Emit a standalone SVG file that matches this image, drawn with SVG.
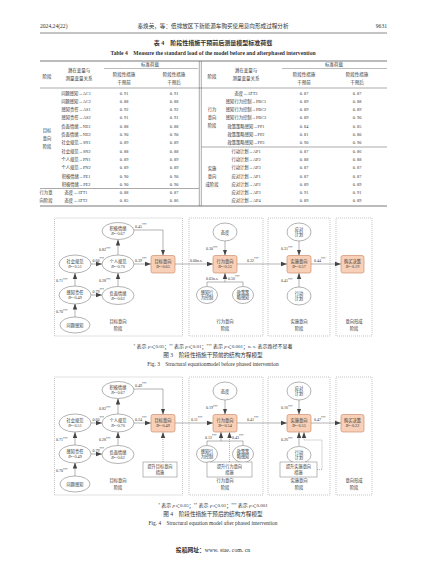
<svg xmlns="http://www.w3.org/2000/svg" width="427" height="579" viewBox="0 0 427 579">
<defs>
<style>
text{font-family:"Liberation Serif","Noto Sans CJK SC",serif;fill:#333}
.hd{font-size:5.6px}
.tt{font-size:6px;font-weight:bold;text-anchor:middle}
.th{font-size:4.5px;text-anchor:middle}
.tb{font-size:4.3px;text-anchor:middle}
.tl{stroke:#555;fill:none}
.nt{font-size:4.2px;text-anchor:middle}
.lb{font-size:4px}
.st{font-size:4.3px;text-anchor:middle}
.cap{font-size:5.4px;text-anchor:middle}
.el{fill:#fff;stroke:#666;stroke-width:0.5}
.bx{fill:#f8d0b8;stroke:#c78160;stroke-width:0.6}
.mb{fill:#fff;stroke:#777;stroke-width:0.5}
.sg{fill:none;stroke:#888;stroke-width:0.5;stroke-dasharray:1,1}
.cn path{fill:none;stroke:#666;stroke-width:0.5}
.cn path.a{marker-end:url(#ar)}
.cn path.d{stroke-dasharray:1,1;marker-end:url(#ar)}
</style>
<marker id="ar" viewBox="0 0 6 6" refX="6" refY="3" markerWidth="6" markerHeight="6" markerUnits="userSpaceOnUse" orient="auto"><path d="M0,0.8 L6,3 L0,5.2 z" fill="#444"/></marker>
</defs>
<rect width="427" height="579" fill="#fff"/>

<!-- page header -->
<text class="hd" x="40" y="28">2024,24(22)</text>
<text class="hd" x="213" y="28" text-anchor="middle">秦焕英，等：低排放区下新能源车购买使用意向形成过程分析</text>
<text class="hd" x="387" y="28" text-anchor="end">9631</text>
<line x1="40" y1="33" x2="387" y2="33" stroke="#888" stroke-width="1"/>

<!-- table -->
<g id="table4">
<text class="tt" x="213" y="44.5">表 4　阶段性措施干预前后测量模型标准荷载</text>
<text class="tt" x="213" y="54.5" style="font-size:5.6px">Table 4　Measure the standard load of the model before and afterphased intervention</text>
<line class="tl" x1="40" y1="61" x2="387" y2="61" stroke-width="0.8"/>
<line class="tl" x1="104" y1="68.5" x2="198" y2="68.5" stroke-width="0.4"/>
<line class="tl" x1="282" y1="68.5" x2="387" y2="68.5" stroke-width="0.4"/>
<line class="tl" x1="40" y1="88" x2="387" y2="88" stroke-width="0.5"/>
<line class="tl" x1="40" y1="188.5" x2="199" y2="188.5" stroke-width="0.5"/>
<line class="tl" x1="201.5" y1="147" x2="387" y2="147" stroke-width="0.5"/>
<line class="tl" x1="40" y1="206" x2="387" y2="206" stroke-width="0.8"/>
<line class="tl" x1="199.3" y1="61" x2="199.3" y2="206" stroke-width="0.5"/>
<line class="tl" x1="201.3" y1="61" x2="201.3" y2="206" stroke-width="0.5"/>

<text class="th" x="150" y="66">标准荷载</text>
<text class="th" x="334" y="66">标准荷载</text>
<text class="th" x="47" y="78">阶段</text>
<text class="th" x="79" y="72">潜在变量与</text>
<text class="th" x="79" y="79.5">测量变量关系</text>
<text class="th" x="124" y="76">阶段性措施</text>
<text class="th" x="124" y="84">干预前</text>
<text class="th" x="174" y="76">阶段性措施</text>
<text class="th" x="174" y="84">干预后</text>
<text class="th" x="212" y="78">阶段</text>
<text class="th" x="246" y="72">潜在变量与</text>
<text class="th" x="246" y="79.5">测量变量关系</text>
<text class="th" x="304" y="76">阶段性措施</text>
<text class="th" x="304" y="84">干预前</text>
<text class="th" x="357" y="76">阶段性措施</text>
<text class="th" x="357" y="84">干预后</text>

<g class="tb">
<text x="47" y="132">目标</text><text x="47" y="140">意向</text><text x="47" y="148">阶段</text>
<text x="46" y="194">行为意</text><text x="46" y="202">向阶段</text>
<text x="212" y="111">行为</text><text x="212" y="119">意向</text><text x="212" y="127">阶段</text>
<text x="212" y="170">实施</text><text x="212" y="178">意向</text><text x="212" y="186">成阶段</text>

<text x="76" y="94.5">问题感知→AC1</text><text x="124" y="94.5">0. 91</text><text x="174" y="94.5">0. 91</text>
<text x="76" y="102.8">问题感知→AC2</text><text x="124" y="102.8">0. 88</text><text x="174" y="102.8">0. 88</text>
<text x="76" y="111.1">感知责任→AS1</text><text x="124" y="111.1">0. 92</text><text x="174" y="111.1">0. 92</text>
<text x="76" y="119.4">感知责任→AS2</text><text x="124" y="119.4">0. 91</text><text x="174" y="119.4">0. 91</text>
<text x="76" y="127.7">负面情绪→NE1</text><text x="124" y="127.7">0. 88</text><text x="174" y="127.7">0. 88</text>
<text x="76" y="136">负面情绪→NE2</text><text x="124" y="136">0. 90</text><text x="174" y="136">0. 90</text>
<text x="76" y="144.3">社会规范→SN1</text><text x="124" y="144.3">0. 89</text><text x="174" y="144.3">0. 89</text>
<text x="76" y="152.6">社会规范→SN2</text><text x="124" y="152.6">0. 88</text><text x="174" y="152.6">0. 88</text>
<text x="76" y="160.9">个人规范→PN1</text><text x="124" y="160.9">0. 89</text><text x="174" y="160.9">0. 89</text>
<text x="76" y="169.2">个人规范→PN2</text><text x="124" y="169.2">0. 89</text><text x="174" y="169.2">0. 89</text>
<text x="76" y="177.5">积极情绪→PE1</text><text x="124" y="177.5">0. 90</text><text x="174" y="177.5">0. 90</text>
<text x="76" y="185.8">积极情绪→PE2</text><text x="124" y="185.8">0. 90</text><text x="174" y="185.8">0. 90</text>
<text x="76" y="194.1">态度→ATT1</text><text x="124" y="194.1">0. 88</text><text x="174" y="194.1">0. 87</text>
<text x="76" y="202.4">态度→ATT2</text><text x="124" y="202.4">0. 85</text><text x="174" y="202.4">0. 86</text>

<text x="246" y="94.5">态度→ATT3</text><text x="304" y="94.5">0. 87</text><text x="357" y="94.5">0. 87</text>
<text x="246" y="102.8">感知行为控制→PBC1</text><text x="304" y="102.8">0. 89</text><text x="357" y="102.8">0. 88</text>
<text x="246" y="111.1">感知行为控制→PBC2</text><text x="304" y="111.1">0. 89</text><text x="357" y="111.1">0. 89</text>
<text x="246" y="119.4">感知行为控制→PBC3</text><text x="304" y="119.4">0. 89</text><text x="357" y="119.4">0. 90</text>
<text x="246" y="127.7">政策策略感知→PP1</text><text x="304" y="127.7">0. 84</text><text x="357" y="127.7">0. 85</text>
<text x="246" y="136">政策策略感知→PP2</text><text x="304" y="136">0. 81</text><text x="357" y="136">0. 80</text>
<text x="246" y="144.3">政策策略感知→PP3</text><text x="304" y="144.3">0. 90</text><text x="357" y="144.3">0. 90</text>
<text x="246" y="152.6">行动计划→AP1</text><text x="304" y="152.6">0. 87</text><text x="357" y="152.6">0. 86</text>
<text x="246" y="160.9">行动计划→AP2</text><text x="304" y="160.9">0. 88</text><text x="357" y="160.9">0. 88</text>
<text x="246" y="169.2">行动计划→AP3</text><text x="304" y="169.2">0. 87</text><text x="357" y="169.2">0. 87</text>
<text x="246" y="177.5">应对计划→AP1</text><text x="304" y="177.5">0. 87</text><text x="357" y="177.5">0. 87</text>
<text x="246" y="185.8">应对计划→AP2</text><text x="304" y="185.8">0. 89</text><text x="357" y="185.8">0. 89</text>
<text x="246" y="194.1">应对计划→AP3</text><text x="304" y="194.1">0. 91</text><text x="357" y="194.1">0. 91</text>
<text x="246" y="202.4">应对计划→AP4</text><text x="304" y="202.4">0. 89</text><text x="357" y="202.4">0. 89</text>
</g>
</g>

<!-- ===== Figure 3 ===== -->
<g id="fig3-stages">
<rect class="sg" x="54.5" y="218" width="128" height="118"/>
<rect class="sg" x="189" y="218" width="74" height="118"/>
<rect class="sg" x="268" y="218" width="62" height="118"/>
<rect class="sg" x="336" y="218" width="36" height="118"/>
<text class="st" x="118" y="323">目标意向</text><text class="st" x="118" y="330">阶段</text>
<text class="st" x="225" y="323">行为意向</text><text class="st" x="225" y="330">阶段</text>
<text class="st" x="299" y="323">实施意向</text><text class="st" x="299" y="330">阶段</text>
<text class="st" x="354" y="323">意向形成</text><text class="st" x="354" y="330">阶段</text>
</g>

<g class="cn" id="fig3-connectors">
<path class="a" d="M118,255 V239.5"/>
<path class="a" d="M91,264 H102"/>
<path class="a" d="M134,264 H151"/>
<path class="a" d="M75,286 V273"/>
<path class="a" d="M118,286.5 V273"/>
<path class="a" d="M91,295 H102"/>
<path class="a" d="M75,317 V303.5"/>
<path class="a" d="M134,230 H163 V255.5"/>
<path class="a" d="M175,264 H213"/>
<path class="a" d="M225,241 V255.5"/>
<path d="M207,286.5 V282 H243 V286.5"/>
<path class="a" d="M225,282 V273"/>
<path class="a" d="M237,264 H287"/>
<path class="a" d="M299,241 V255.5"/>
<path class="a" d="M299,287 V273"/>
<path class="a" d="M311,264 H341"/>
</g>

<g id="fig3-labels" class="lb">
<text x="135" y="227.5">0.45<tspan font-size="3" dy="-1.5">***</tspan></text>
<text x="99" y="251">0.82<tspan font-size="3" dy="-1.5">***</tspan></text>
<text x="92.5" y="261.5">0.60<tspan font-size="3" dy="-1.5">***</tspan></text>
<text x="135" y="261.5">0.39<tspan font-size="3" dy="-1.5">***</tspan></text>
<text x="56" y="282">0.71<tspan font-size="3" dy="-1.5">***</tspan></text>
<text x="99" y="282">0.28<tspan font-size="3" dy="-1.5">***</tspan></text>
<text x="92.5" y="292.5">0.79<tspan font-size="3" dy="-1.5">***</tspan></text>
<text x="56" y="313">0.70<tspan font-size="3" dy="-1.5">***</tspan></text>
<text x="190" y="261.5">0.00n.s.</text>
<text x="206" y="250">0.30<tspan font-size="3" dy="-1.5">***</tspan></text>
<text x="247" y="261.5">0.32<tspan font-size="3" dy="-1.5">***</tspan></text>
<text x="206" y="279.5">0.03n.s.</text>
<text x="228" y="279.5">0.56<tspan font-size="3" dy="-1.5">***</tspan></text>
<text x="281" y="250">0.31<tspan font-size="3" dy="-1.5">***</tspan></text>
<text x="281" y="282">0.41<tspan font-size="3" dy="-1.5">***</tspan></text>
<text x="314" y="261.5">0.44<tspan font-size="3" dy="-1.5">***</tspan></text>
</g>

<g id="f3-PE"><ellipse class="el" cx="118" cy="231" rx="16" ry="8.5"/><text class="nt" x="118" y="230">积极情绪</text><text class="nt" x="118" y="235"><tspan font-style="italic">R</tspan>²=0.67</text></g>
<g id="f3-PN"><ellipse class="el" cx="118" cy="264" rx="16" ry="9"/><text class="nt" x="118" y="263">个人规范</text><text class="nt" x="118" y="268"><tspan font-style="italic">R</tspan>²=0.70</text></g>
<g id="f3-SN"><ellipse class="el" cx="75" cy="264" rx="16" ry="9"/><text class="nt" x="75" y="263">社会规范</text><text class="nt" x="75" y="268"><tspan font-style="italic">R</tspan>²=0.51</text></g>
<g id="f3-AS"><ellipse class="el" cx="75" cy="295" rx="16" ry="9"/><text class="nt" x="75" y="294">感知责任</text><text class="nt" x="75" y="299"><tspan font-style="italic">R</tspan>²=0.49</text></g>
<g id="f3-NE"><ellipse class="el" cx="118" cy="295.5" rx="16" ry="9"/><text class="nt" x="118" y="294.5">负面情绪</text><text class="nt" x="118" y="299.5"><tspan font-style="italic">R</tspan>²=0.62</text></g>
<g id="f3-AC"><ellipse class="el" cx="75" cy="325" rx="15" ry="8"/><text class="nt" x="75" y="326.5">问题感知</text></g>
<g id="f3-GI"><rect class="bx" x="151" y="255.5" width="24" height="17.5" rx="2"/><text class="nt" x="163" y="263">目标意向</text><text class="nt" x="163" y="268"><tspan font-style="italic">R</tspan>²=0.65</text></g>
<g id="f3-ATT"><ellipse class="el" cx="225" cy="232" rx="12" ry="9"/><text class="nt" x="225" y="233.5">态度</text></g>
<g id="f3-BI"><rect class="bx" x="213" y="255.5" width="24" height="17.5" rx="2"/><text class="nt" x="225" y="263">行为意向</text><text class="nt" x="225" y="268"><tspan font-style="italic">R</tspan>²=0.55</text></g>
<g id="f3-PBC"><ellipse class="el" cx="207" cy="295" rx="10.5" ry="8.5"/><text class="nt" x="207" y="294">感知行</text><text class="nt" x="207" y="299">为控制</text></g>
<g id="f3-PP"><ellipse class="el" cx="243" cy="295" rx="10.5" ry="8.5"/><text class="nt" x="243" y="294">政策策</text><text class="nt" x="243" y="299">略感知</text></g>
<g id="f3-CP"><ellipse class="el" cx="299" cy="232" rx="12" ry="9"/><text class="nt" x="299" y="231">应对</text><text class="nt" x="299" y="236">计划</text></g>
<g id="f3-II"><rect class="bx" x="287" y="255.5" width="24" height="17.5" rx="2"/><text class="nt" x="299" y="263">实施意向</text><text class="nt" x="299" y="268"><tspan font-style="italic">R</tspan>²=0.57</text></g>
<g id="f3-AP"><ellipse class="el" cx="299" cy="296" rx="12" ry="9"/><text class="nt" x="299" y="295">行动</text><text class="nt" x="299" y="300">计划</text></g>
<g id="f3-PD"><rect class="bx" x="341" y="255.5" width="23" height="17.5" rx="2"/><text class="nt" x="352.5" y="263">购买决策</text><text class="nt" x="352.5" y="268"><tspan font-style="italic">R</tspan>²=0.19</text></g>

<text class="cap" x="213" y="348" style="font-size:5px"><tspan font-size="3.5" dy="-1.5">*</tspan><tspan dy="1.5"> 表示 </tspan><tspan font-style="italic">p</tspan>＜0.05；<tspan font-size="3.5" dy="-1.5">**</tspan><tspan dy="1.5"> 表示 </tspan><tspan font-style="italic">p</tspan>＜0.01；<tspan font-size="3.5" dy="-1.5">***</tspan><tspan dy="1.5"> 表示 </tspan><tspan font-style="italic">p</tspan>＜0.001；n. s. 表示路径不显著</text>
<text class="cap" x="213" y="357" style="font-size:5.6px">图 3　阶段性措施干预前的结构方程模型</text>
<text class="cap" x="213" y="366">Fig. 3　Structural equationmodel before phased intervention</text>

<!-- ===== Figure 4 ===== -->
<g id="fig4-stages">
<rect class="sg" x="54.5" y="377" width="128" height="118"/>
<rect class="sg" x="189" y="377" width="74" height="118"/>
<rect class="sg" x="268" y="377" width="62" height="118"/>
<rect class="sg" x="336" y="377" width="36" height="118"/>
<text class="st" x="118" y="482">目标意向</text><text class="st" x="118" y="489">阶段</text>
<text class="st" x="225" y="482">行为意向</text><text class="st" x="225" y="489">阶段</text>
<text class="st" x="299" y="482">实施意向</text><text class="st" x="299" y="489">阶段</text>
<text class="st" x="354" y="482">意向形成</text><text class="st" x="354" y="489">阶段</text>
</g>

<g class="cn" id="fig4-connectors">
<path class="a" d="M118,414 V398.5"/>
<path class="a" d="M91,423 H102"/>
<path class="a" d="M134,423 H151"/>
<path class="a" d="M75,445 V432"/>
<path class="a" d="M118,445.5 V432"/>
<path class="a" d="M91,454 H102"/>
<path class="a" d="M75,476 V462.5"/>
<path class="a" d="M134,389 H163 V414.5"/>
<path class="d" d="M163,462 V432"/>
<path class="a" d="M175,423 H213"/>
<path class="a" d="M225,400 V414.5"/>
<path d="M207,445.5 V441 H243 V445.5"/>
<path class="a" d="M221,441 V432"/>
<path class="d" d="M229.5,462 V432"/>
<path class="a" d="M237,423 H287"/>
<path class="a" d="M299,400 V414.5"/>
<path class="a" d="M299,446 V432"/>
<path class="d" d="M317,469.5 H322 V440 H304 V432"/>
<path class="a" d="M311,423 H341"/>
</g>

<g id="fig4-labels" class="lb">
<text x="135" y="386.5">0.49<tspan font-size="3" dy="-1.5">***</tspan></text>
<text x="99" y="410">0.82<tspan font-size="3" dy="-1.5">***</tspan></text>
<text x="92.5" y="420.5">0.60<tspan font-size="3" dy="-1.5">***</tspan></text>
<text x="135" y="420.5">0.24<tspan font-size="3" dy="-1.5">***</tspan></text>
<text x="56" y="441">0.71<tspan font-size="3" dy="-1.5">***</tspan></text>
<text x="99" y="441">0.28<tspan font-size="3" dy="-1.5">***</tspan></text>
<text x="92.5" y="451.5">0.79<tspan font-size="3" dy="-1.5">***</tspan></text>
<text x="56" y="472">0.70<tspan font-size="3" dy="-1.5">***</tspan></text>
<text x="191" y="420.5">0.11<tspan font-size="3" dy="-1.5">***</tspan></text>
<text x="206" y="409">0.19<tspan font-size="3" dy="-1.5">***</tspan></text>
<text x="247" y="420.5">0.41<tspan font-size="3" dy="-1.5">***</tspan></text>
<text x="205" y="438.5">0.12<tspan font-size="3" dy="-1.5">***</tspan></text>
<text x="232" y="438.5">0.43<tspan font-size="3" dy="-1.5">***</tspan></text>
<text x="281" y="409">0.16<tspan font-size="3" dy="-1.5">***</tspan></text>
<text x="281" y="441">0.26<tspan font-size="3" dy="-1.5">***</tspan></text>
<text x="314" y="420.5">0.47<tspan font-size="3" dy="-1.5">***</tspan></text>
</g>

<g id="f4-PE"><ellipse class="el" cx="118" cy="390" rx="16" ry="8.5"/><text class="nt" x="118" y="389">积极情绪</text><text class="nt" x="118" y="394"><tspan font-style="italic">R</tspan>²=0.67</text></g>
<g id="f4-PN"><ellipse class="el" cx="118" cy="423" rx="16" ry="9"/><text class="nt" x="118" y="422">个人规范</text><text class="nt" x="118" y="427"><tspan font-style="italic">R</tspan>²=0.70</text></g>
<g id="f4-SN"><ellipse class="el" cx="75" cy="423" rx="16" ry="9"/><text class="nt" x="75" y="422">社会规范</text><text class="nt" x="75" y="427"><tspan font-style="italic">R</tspan>²=0.51</text></g>
<g id="f4-AS"><ellipse class="el" cx="75" cy="454" rx="16" ry="9"/><text class="nt" x="75" y="453">感知责任</text><text class="nt" x="75" y="458"><tspan font-style="italic">R</tspan>²=0.49</text></g>
<g id="f4-NE"><ellipse class="el" cx="118" cy="454.5" rx="16" ry="9"/><text class="nt" x="118" y="453.5">负面情绪</text><text class="nt" x="118" y="458.5"><tspan font-style="italic">R</tspan>²=0.62</text></g>
<g id="f4-AC"><ellipse class="el" cx="75" cy="484" rx="15" ry="8"/><text class="nt" x="75" y="485.5">问题感知</text></g>
<g id="f4-GI"><rect class="bx" x="151" y="414.5" width="24" height="17.5" rx="2"/><text class="nt" x="163" y="422">目标意向</text><text class="nt" x="163" y="427"><tspan font-style="italic">R</tspan>²=0.49</text></g>
<g id="f4-GM"><rect class="mb" x="143" y="462" width="34" height="15"/><text class="nt" x="160" y="468">提升目标意向</text><text class="nt" x="160" y="474">措施</text></g>
<g id="f4-ATT"><ellipse class="el" cx="225" cy="391" rx="12" ry="9"/><text class="nt" x="225" y="392.5">态度</text></g>
<g id="f4-BI"><rect class="bx" x="213" y="414.5" width="24" height="17.5" rx="2"/><text class="nt" x="225" y="422">行为意向</text><text class="nt" x="225" y="427"><tspan font-style="italic">R</tspan>²=0.54</text></g>
<g id="f4-PBC"><ellipse class="el" cx="207" cy="454" rx="10.5" ry="8.5"/><text class="nt" x="207" y="453">感知行</text><text class="nt" x="207" y="458">为控制</text></g>
<g id="f4-PP"><ellipse class="el" cx="243" cy="454" rx="10.5" ry="8.5"/><text class="nt" x="243" y="453">政策策</text><text class="nt" x="243" y="458">略感知</text></g>
<g id="f4-BM"><rect class="mb" x="207" y="462" width="45" height="15"/><text class="nt" x="229.5" y="468">提升行为意向</text><text class="nt" x="229.5" y="474">措施</text></g>
<g id="f4-CP"><ellipse class="el" cx="299" cy="391" rx="12" ry="9"/><text class="nt" x="299" y="390">应对</text><text class="nt" x="299" y="395">计划</text></g>
<g id="f4-II"><rect class="bx" x="287" y="414.5" width="24" height="17.5" rx="2"/><text class="nt" x="299" y="422">实施意向</text><text class="nt" x="299" y="427"><tspan font-style="italic">R</tspan>²=0.55</text></g>
<g id="f4-AP"><ellipse class="el" cx="299" cy="455" rx="12" ry="8.5"/><text class="nt" x="299" y="454">行动</text><text class="nt" x="299" y="459">计划</text></g>
<g id="f4-IM"><rect class="mb" x="280" y="462" width="37" height="15"/><text class="nt" x="298.5" y="468">提升实施意向</text><text class="nt" x="298.5" y="474">措施</text></g>
<g id="f4-PD"><rect class="bx" x="341" y="414.5" width="23" height="17.5" rx="2"/><text class="nt" x="352.5" y="422">购买决策</text><text class="nt" x="352.5" y="427"><tspan font-style="italic">R</tspan>²=0.22</text></g>

<text class="cap" x="213" y="507" style="font-size:5px"><tspan font-size="3.5" dy="-1.5">*</tspan><tspan dy="1.5"> 表示 </tspan><tspan font-style="italic">p</tspan>＜0.05；<tspan font-size="3.5" dy="-1.5">**</tspan><tspan dy="1.5"> 表示 </tspan><tspan font-style="italic">p</tspan>＜0.01；<tspan font-size="3.5" dy="-1.5">***</tspan><tspan dy="1.5"> 表示 </tspan><tspan font-style="italic">p</tspan>＜0.001</text>
<text class="cap" x="213" y="516" style="font-size:5.6px">图 4　阶段性措施干预后的结构方程模型</text>
<text class="cap" x="213" y="525">Fig. 4　Structural equation model after phased intervention</text>

<text class="cap" x="213" y="552" style="font-size:5.8px"><tspan font-weight="bold">投稿网址：</tspan>www. stae. com. cn</text>
</svg>
